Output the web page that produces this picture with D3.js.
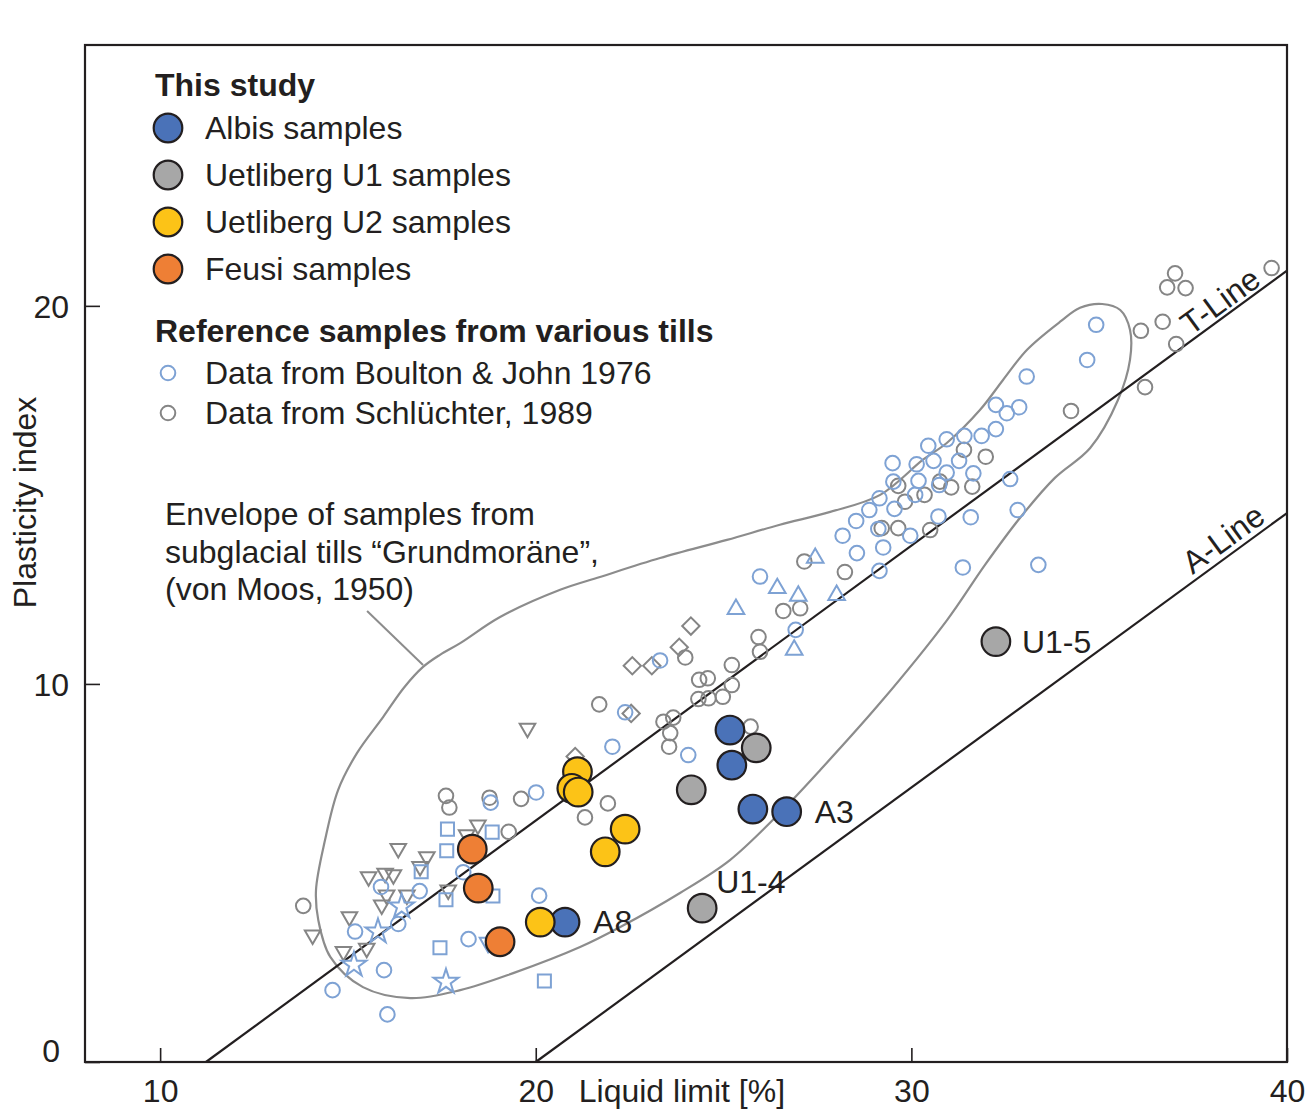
<!DOCTYPE html>
<html>
<head>
<meta charset="utf-8">
<script src="https://cdn.jsdelivr.net/npm/d3@7"></script>
<style>
  body { margin: 0; background: #fff; }
  text { font-family: "Liberation Sans", Arial, sans-serif; fill: #231f20; }
</style>
</head>
<body>
<div id="chart"></div>
<script>
// ---- data (liquid limit %, plasticity index) ----
const xTicks = [10, 20, 30, 40];
const yTicks = [0, 10, 20];

// this study
const albis = [[25.17, 8.78], [25.22, 7.85], [25.78, 6.69], [26.68, 6.62], [20.78, 3.70]];
const uetlibergU1 = [[25.87, 8.31], [24.14, 7.20], [24.43, 4.07], [32.25, 11.12]];
const uetlibergU2 = [[21.11, 7.68], [20.96, 7.24], [21.13, 7.14], [22.38, 6.16], [21.85, 5.56], [20.12, 3.70]];
const feusi = [[18.31, 5.63], [18.47, 4.60], [19.05, 3.18]];

// Boulton & John 1976 (blue)
const boultonCircles = [
  [20.01, 7.13], [18.80, 6.86], [18.07, 5.02], [15.88, 4.63], [16.91, 4.52], [16.34, 3.65],
  [15.19, 3.45], [18.21, 3.25], [20.09, 4.40], [15.96, 2.43], [14.59, 1.90], [16.05, 1.26],
  [25.97, 12.84], [26.92, 11.43], [23.31, 10.62], [22.38, 9.25], [22.04, 8.34], [24.06, 8.12],
  [32.25, 17.38], [32.54, 17.16], [32.87, 17.32], [32.25, 16.74], [31.87, 16.56], [31.41, 16.56],
  [30.94, 16.47], [30.45, 16.30], [29.50, 15.84], [30.14, 15.81], [30.59, 15.90], [31.27, 15.90],
  [31.65, 15.57], [30.94, 15.59], [30.19, 15.37], [29.52, 15.35], [30.74, 15.26], [32.63, 15.42],
  [29.15, 14.91], [30.10, 15.00], [28.88, 14.60], [29.55, 14.63], [28.53, 14.31], [28.17, 13.92],
  [29.12, 14.10], [29.97, 13.92], [30.72, 14.43], [31.58, 14.41], [32.83, 14.60], [28.55, 13.46],
  [29.25, 13.61], [29.15, 12.99], [31.37, 13.08], [33.38, 13.15],
  [34.92, 19.50], [34.68, 18.57], [33.07, 18.13]
];
const boultonSquares = [[17.65, 6.16], [18.84, 6.08], [17.63, 5.59], [16.95, 5.03], [17.61, 4.29], [18.86, 4.39], [17.45, 3.02], [20.23, 2.14]];
const boultonStars = [[16.43, 4.11], [15.80, 3.45], [15.16, 2.57], [17.61, 2.12]];
const boultonTriangles = [[27.44, 13.33], [26.43, 12.53], [25.33, 11.98], [26.99, 12.33], [28.01, 12.35], [26.88, 10.90]];
const boultonTrianglesDown = [[18.73, 3.16]];

// Schlüchter 1989 (grey)
const schluchterCircles = [
  [17.61, 7.04], [17.70, 6.73], [18.77, 6.99], [19.61, 6.96], [21.92, 6.84], [21.31, 6.47],
  [19.28, 6.09], [13.81, 4.13],
  [27.15, 13.24], [26.59, 11.93], [27.04, 12.00], [25.93, 11.24], [25.97, 10.85], [23.98, 10.70],
  [25.22, 10.50], [24.35, 10.11], [24.58, 10.15], [25.22, 9.97], [24.33, 9.60], [24.60, 9.62],
  [24.98, 9.66], [21.69, 9.46], [23.40, 9.00], [23.66, 9.11], [23.58, 8.70], [23.55, 8.34], [25.72, 8.87],
  [34.25, 17.22], [31.40, 16.19], [31.98, 16.01], [29.65, 15.24], [29.83, 14.82], [30.35, 15.00],
  [30.76, 15.35], [31.06, 15.20], [31.62, 15.22], [29.21, 14.12], [29.65, 14.12], [30.50, 14.07], [28.23, 12.96],
  [37.02, 20.86], [36.81, 20.49], [37.30, 20.47], [39.59, 21.00], [36.69, 19.58], [36.11, 19.34],
  [37.05, 18.99], [36.22, 17.85]
];
const schluchterTrianglesDown = [
  [18.46, 6.27], [18.16, 6.01], [16.34, 5.65], [17.10, 5.43], [16.92, 5.17], [15.55, 4.90],
  [15.99, 4.99], [16.21, 4.95], [16.03, 4.42], [16.57, 4.42], [17.67, 4.55], [15.90, 4.15],
  [15.04, 3.84], [14.06, 3.36], [15.50, 3.01], [14.88, 2.92], [19.78, 8.83]
];
const schluchterDiamonds = [[24.13, 11.53], [23.82, 10.97], [23.09, 10.48], [22.57, 10.48], [22.54, 9.22], [21.05, 8.08]];

// envelope of subglacial tills (von Moos, 1950)
const envelope = [
  [16.66, 1.69], [17.99, 1.90], [19.40, 2.35], [21.18, 3.04], [22.25, 3.57], [23.84, 4.47],
  [25.17, 5.34], [26.50, 6.59], [27.57, 7.72], [29.17, 9.50], [30.95, 11.69], [31.96, 13.15],
  [32.89, 14.39], [33.82, 15.45], [34.76, 16.24], [35.50, 17.51], [35.82, 18.57], [35.82, 19.37],
  [35.56, 19.89], [35.08, 20.05], [34.49, 19.95], [33.96, 19.58], [33.08, 18.84], [32.44, 18.04],
  [31.83, 17.25], [30.95, 16.38], [30.31, 15.93], [29.17, 15.00], [27.84, 14.55], [26.50, 14.21],
  [25.09, 13.81], [23.31, 13.33], [21.71, 12.83], [20.65, 12.49], [19.05, 11.77], [17.99, 11.08],
  [17.45, 10.77], [17.00, 10.45], [16.49, 9.90], [15.94, 9.13], [15.24, 8.17], [14.74, 7.20],
  [14.39, 5.87], [14.15, 4.55], [14.21, 3.76], [14.53, 2.78], [15.40, 1.98]
];
const envelopeLeader = [[15.51, 11.93], [17.00, 10.50]];

const tLine = [[11.22, 0], [40, 20.93]];
const aLine = [[20, 0], [40, 14.52]];

const studyNames = ["Albis samples", "Uetliberg U1 samples", "Uetliberg U2 samples", "Feusi samples"];
const studyColors = ["#4a72b8", "#a7a7a7", "#fcc317", "#ee7f35"];
const refNames = ["Data from Boulton & John 1976", "Data from Schlüchter, 1989"];
const envelopeText = ["Envelope of samples from", "subglacial tills \u201cGrundmoräne\u201d,", "(von Moos, 1950)"];

const sampleLabels = [
  {text: "A8", at: albis[4], dx: 28, dy: 0},
  {text: "A3", at: albis[3], dx: 28, dy: 0},
  {text: "U1-4", at: uetlibergU1[2], dx: 14, dy: -26},
  {text: "U1-5", at: uetlibergU1[3], dx: 26, dy: 0}
];

// ---- layout ----
const W = 1307, H = 1110;
const blue = "#7ea2d4", grey = "#858585", ink = "#231f20";
const fs = 32;

const svg = d3.select("#chart").append("svg")
    .attr("width", W).attr("height", H);

const x = d3.scaleLinear().domain([8, 40]).range([85, 1287]);
const y = d3.scaleLinear().domain([0, 26.9]).range([1062, 45]);

// envelope
svg.append("path")
    .datum(envelope)
    .attr("d", d3.line().x(d => x(d[0])).y(d => y(d[1])).curve(d3.curveCatmullRomClosed.alpha(0.5)))
    .attr("fill", "none").attr("stroke", "#8c8c8c").attr("stroke-width", 2.2);

svg.append("path")
    .datum(envelopeLeader)
    .attr("d", d3.line().x(d => x(d[0])).y(d => y(d[1])))
    .attr("stroke", "#8c8c8c").attr("stroke-width", 2);

// T- and A-line
[tLine, aLine].forEach(l => {
  svg.append("line")
      .attr("x1", x(l[0][0])).attr("y1", y(l[0][1]))
      .attr("x2", x(l[1][0])).attr("y2", y(l[1][1]))
      .attr("stroke", ink).attr("stroke-width", 2.2);
});

function angle(l) {
  return Math.atan2(y(l[1][1]) - y(l[0][1]), x(l[1][0]) - x(l[0][0])) * 180 / Math.PI;
}
svg.append("text")
    .attr("transform", `translate(${x(38.22)},${y(20.13)}) rotate(${angle(tLine)})`)
    .attr("text-anchor", "middle").attr("dy", "0.35em")
    .attr("font-size", fs).text("T-Line");
svg.append("text")
    .attr("transform", `translate(${x(38.30)},${y(13.84)}) rotate(${angle(aLine)})`)
    .attr("text-anchor", "middle").attr("dy", "0.35em")
    .attr("font-size", fs).text("A-Line");

// reference samples
function openCircles(data, color) {
  svg.append("g").selectAll("circle").data(data).join("circle")
      .attr("cx", d => x(d[0])).attr("cy", d => y(d[1])).attr("r", 7.3)
      .attr("fill", "none").attr("stroke", color).attr("stroke-width", 2);
}
function symbols(data, type, size, color, rot) {
  svg.append("g").selectAll("path").data(data).join("path")
      .attr("d", d3.symbol().type(type).size(size))
      .attr("transform", d => `translate(${x(d[0])},${y(d[1])}) rotate(${rot})`)
      .attr("fill", "none").attr("stroke", color).attr("stroke-width", 2);
}
symbols(schluchterTrianglesDown, d3.symbolTriangle, 105, grey, 180);
symbols(schluchterDiamonds, d3.symbolSquare, 150, grey, 45);
openCircles(schluchterCircles, grey);
symbols(boultonSquares, d3.symbolSquare, 170, blue, 0);
symbols(boultonStars, d3.symbolStar, 190, blue, 0);
symbols(boultonTriangles, d3.symbolTriangle, 120, blue, 0);
symbols(boultonTrianglesDown, d3.symbolTriangle, 120, blue, 180);
openCircles(boultonCircles, blue);

// this study
[albis, uetlibergU1, uetlibergU2, feusi].forEach((set, i) => {
  svg.append("g").selectAll("circle").data(set).join("circle")
      .attr("cx", d => x(d[0])).attr("cy", d => y(d[1])).attr("r", 14.3)
      .attr("fill", studyColors[i]).attr("stroke", ink).attr("stroke-width", 2.2);
});

sampleLabels.forEach(l => {
  svg.append("text")
      .attr("x", x(l.at[0]) + l.dx).attr("y", y(l.at[1]) + l.dy)
      .attr("dy", "0.35em").attr("font-size", fs).text(l.text);
});

// envelope label
svg.append("g").selectAll("text").data(envelopeText).join("text")
    .attr("x", 165).attr("y", (d, i) => 514 + i * 37.5)
    .attr("dy", "0.35em").attr("font-size", fs).text(d => d);

// frame + axes
svg.append("rect")
    .attr("x", x(8)).attr("y", y(26.9))
    .attr("width", x(40) - x(8)).attr("height", y(0) - y(26.9))
    .attr("fill", "none").attr("stroke", ink).attr("stroke-width", 2.2);

const gx = svg.append("g")
    .attr("transform", `translate(0,${y(0)})`)
    .call(d3.axisBottom(x).tickValues(xTicks).tickSize(-14).tickFormat(d3.format("d")));
gx.select(".domain").remove();
gx.selectAll("line").attr("stroke", ink).attr("stroke-width", 1.6);
gx.selectAll("text").attr("y", 29).attr("dy", "0.35em").attr("font-size", fs).attr("fill", ink);

const gy = svg.append("g")
    .attr("transform", `translate(${x(8)},0)`)
    .call(d3.axisLeft(y).tickValues(yTicks).tickSize(-15).tickFormat(d3.format("d")));
gy.select(".domain").remove();
gy.selectAll("line").attr("stroke", ink).attr("stroke-width", 1.6);
gy.selectAll("text").attr("x", -16).attr("dy", "0.35em").attr("font-size", fs).attr("fill", ink);
gy.selectAll(".tick").filter(d => d === 0).select("text").attr("x", -25).attr("y", -12);

svg.append("text")
    .attr("x", x(20) + 43).attr("y", y(0) + 29).attr("dy", "0.35em")
    .attr("font-size", fs).text("Liquid limit [%]");
svg.append("text")
    .attr("transform", `translate(25,${y(14.8)}) rotate(-90)`)
    .attr("text-anchor", "middle").attr("dy", "0.35em")
    .attr("font-size", fs).text("Plasticity index");

// legend
const lg = svg.append("g");
lg.append("text").attr("x", 155).attr("y", 85).attr("dy", "0.35em")
    .attr("font-size", fs).attr("font-weight", "bold").text("This study");
studyNames.forEach((n, i) => {
  lg.append("circle").attr("cx", 168).attr("cy", 128 + i * 47).attr("r", 14.3)
      .attr("fill", studyColors[i]).attr("stroke", ink).attr("stroke-width", 2.2);
  lg.append("text").attr("x", 205).attr("y", 128 + i * 47).attr("dy", "0.35em")
      .attr("font-size", fs).text(n);
});
lg.append("text").attr("x", 155).attr("y", 331).attr("dy", "0.35em")
    .attr("font-size", fs).attr("font-weight", "bold").text("Reference samples from various tills");
refNames.forEach((n, i) => {
  lg.append("circle").attr("cx", 168).attr("cy", 373 + i * 40).attr("r", 7.3)
      .attr("fill", "none").attr("stroke", [blue, grey][i]).attr("stroke-width", 2);
  lg.append("text").attr("x", 205).attr("y", 373 + i * 40).attr("dy", "0.35em")
      .attr("font-size", fs).text(n);
});
</script>
</body>
</html>
